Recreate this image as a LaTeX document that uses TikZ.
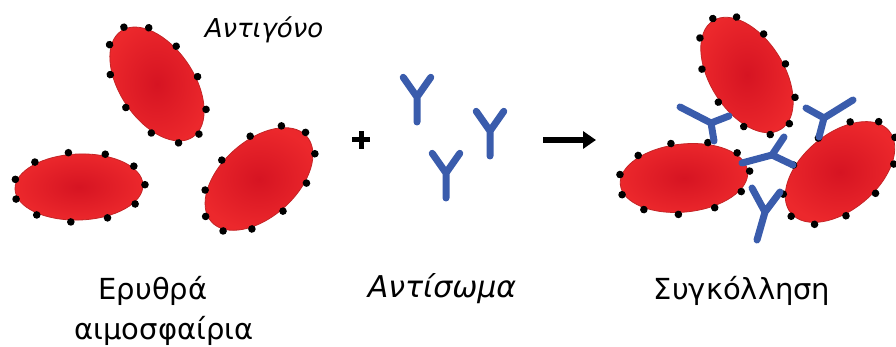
\documentclass[tikz,border=0pt]{standalone}
\usepackage{fontspec}
\setmainfont{DejaVu Sans}[ItalicFont={DejaVu Sans Oblique}]
\usetikzlibrary{arrows.meta}
\definecolor{cellred}{RGB}{236,40,44}
\definecolor{celldark}{RGB}{214,20,34}
\definecolor{cellrim}{RGB}{196,36,38}
\definecolor{abblue}{RGB}{58,92,172}
\tikzstyle{rbc} = [
  draw=cellrim,
  line width=0.8pt,
  inner color=celldark,
  outer color=cellred,
]
\tikzstyle{antibody} = [
  draw=abblue,
  line width=7pt,
  line cap=round,
  line join=round,
]
\tikzstyle{lbl} = [
  anchor=base,
  inner sep=0pt,
  font=\fontsize{29}{34}\selectfont,
]

\begin{document}
\begin{tikzpicture}[x=1pt, y=1pt]
      \clip (0,0) rectangle (896,347);

      % cell: x, y, rotation, half axes a b, phase of the antigen dots
      \def\redcell#1#2#3#4#5#6{%
        \begin{scope}[shift={(#1,#2)}, rotate=#3]
          \shadedraw[rbc] (0,0) ellipse [x radius=#4, y radius=#5];
          \foreach \k in {0,...,10}
            \fill ({#6+\k*360/11}:#4+2 and #5+2) circle (3.8);
        \end{scope}}
      % free antibody with its fork at (x,y)
      \def\freeab#1#2{%
        \draw[antibody] (#1,#2) -- ++(0,-25)
          (#1,#2) -- ++(125:24)
          (#1,#2) -- ++(55:24);}

      % Red cells
      \redcell{157}{263}{-56}{64}{37}{10}
      \redcell{79}{160}{2}{64}{33}{0}
      \redcell{259}{168}{42}{64}{38}{5}

      % Antibodies
      \freeab{417}{250}
      \freeab{490}{216}
      \freeab{446}{174}

      % Plus and arrow
      \draw[line width=5pt] (352,207) -- (370,207) (361,198) -- (361,216);
      \coordinate (from) at (543,207);
      \coordinate (to) at (596,207);
      \draw[line width=6.5pt, -{Triangle[length=13pt, width=17pt]}] (from) -- (to);

      % Agglutinated cells
      \redcell{747}{272}{-58}{64}{37}{15}
      \redcell{684}{169}{6}{64}{34}{0}
      \redcell{840}{175}{40}{64}{38}{20}

      % Antibodies bridging the cells
      \coordinate (j1) at (711,224);
      \draw[antibody] (j1) -- (680,240) (j1) -- (729,231) (j1) -- (714,206);
      \coordinate (j2) at (824,229);
      \draw[antibody] (j2) -- (806,239) (j2) -- (853,247) (j2) -- (819,210);
      \coordinate (j3) at (772,192);
      \draw[antibody] (j3) -- (784,210) (j3) -- (742,184) (j3) -- (793,182);
      \coordinate (j4) at (765,135);
      \draw[antibody] (j4) -- (752,159) (j4) -- (780,155) (j4) -- (757,107);

      % Labels
      \node[lbl, font=\fontsize{26}{30}\selectfont\itshape] (antigen) at (264,309) {Αντιγόνο};
      \node[lbl] (rbc1) at (153,47) {Ερυθρά};
      \node[lbl] (rbc2) at (164,7) {αιμοσφαίρια};
      \node[lbl, font=\fontsize{30}{34}\selectfont\itshape] (antibody) at (442,49) {Αντίσωμα};
      \node[lbl] (agglut) at (742,47) {Συγκόλληση};
    \end{tikzpicture}
\end{document}
